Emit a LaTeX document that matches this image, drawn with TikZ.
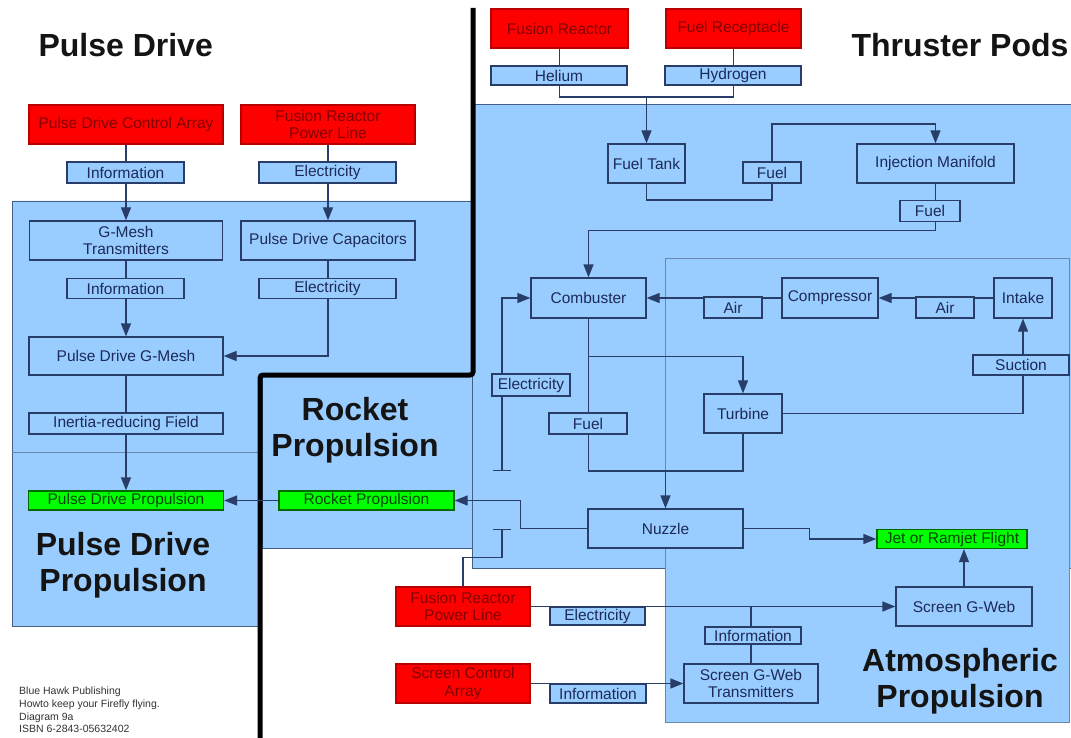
\documentclass[tikz,border=0pt]{standalone}
\usepackage{fontspec}
\setmainfont{Liberation Sans}
\usetikzlibrary{arrows.meta}
\definecolor{zonefill}{RGB}{153,204,255}
\definecolor{zoneedge}{RGB}{70,95,135}
\definecolor{inneredge}{RGB}{105,135,175}
\definecolor{edgeblue}{RGB}{40,62,105}
\definecolor{textblue}{RGB}{28,42,88}
\definecolor{supplyred}{RGB}{255,0,0}
\definecolor{supplyedge}{RGB}{185,0,0}
\definecolor{supplytext}{RGB}{130,0,0}
\definecolor{outgreen}{RGB}{0,255,0}
\definecolor{outedge}{RGB}{0,105,0}
\definecolor{outtext}{RGB}{0,70,0}
\newcommand{\bxfont}{\fontsize{15.5}{17.5}\selectfont}
\newcommand{\ttlfont}{\fontsize{32}{36}\selectfont\bfseries}
\newcommand{\notefont}{\fontsize{10.5}{12.6}\selectfont}
\tikzstyle{zone} = [fill=zonefill,draw=zoneedge,line width=0.8pt]
\tikzstyle{bordered} = [align=center,draw=edgeblue,fill=zonefill,text=textblue,font=\bxfont,inner sep=0,line width=1.2pt,minimum height=39pt]
\tikzstyle{supply} = [bordered,fill=supplyred,draw=supplyedge,text=supplytext]
\tikzstyle{outcome} = [bordered,fill=outgreen,draw=outedge,text=outtext,minimum height=19pt]
\tikzstyle{flowtag} = [bordered,minimum height=20pt]
\tikzstyle{link} = [draw=edgeblue,line width=1.2pt]
\tikzstyle{arrow} = [link,-{Triangle[length=13pt,width=10pt]}]
\tikzstyle{tee} = [link,-{Bar[width=18pt]}]
\tikzstyle{heading} = [align=center,font=\ttlfont,text=black!92]

\begin{document}
\begin{tikzpicture}[x=1pt,y=-1pt]
    \useasboundingbox [fill=white] (0,0) rectangle (1071,738);
    \fill [zone] (12,201) -- (473,201) -- (473,375) -- (260,375) -- (260,626) -- (12,626) -- cycle;
    \draw [draw=inneredge,line width=0.6pt] (12,452) -- (258,452);
    \fill [zone] (262,375) rectangle (472,548);
    \fill [zone] (472,104) rectangle (1073,568);
    \filldraw [zone,draw=inneredge] (665,258) rectangle (1069,722);
    \draw [line width=5pt,rounded corners=3pt] (473,8) -- (473,375) -- (260,375) -- (260,740);

    \node [supply,minimum width=194pt] (pdca) at (126,124.5) {Pulse Drive Control Array};
    \node [supply,minimum width=174pt] (frpl) at (328,124.5) {Fusion Reactor\\Power Line};
    \node [bordered,minimum width=193pt] (gmt) at (126,240.5) {G-Mesh\\Transmitters};
    \node [bordered,minimum width=174pt] (pdc) at (328,240.5) {Pulse Drive Capacitors};
    \node [bordered,minimum width=194pt,minimum height=38pt] (pdgm) at (126,356) {Pulse Drive G-Mesh};
    \node [outcome,minimum width=195pt] (pdp) at (126,500.5) {Pulse Drive Propulsion};
    \node [outcome,minimum width=175pt] (rp) at (366.5,500.5) {Rocket Propulsion};
    \node [supply,minimum width=137pt] (fr) at (559.5,28.5) {Fusion Reactor};
    \node [supply,minimum width=135pt] (frc) at (733.5,28.5) {Fuel Receptacle};
    \node [bordered,minimum width=77pt] (tank) at (646.5,163.5) {Fuel Tank};
    \node [bordered,minimum width=157pt] (inj) at (935.5,163.5) {Injection Manifold};
    \node [bordered,minimum width=115pt,minimum height=40pt] (comb) at (588.5,298) {Combuster};
    \node [bordered,minimum width=96pt,minimum height=40pt] (comp) at (830,298) {Compressor};
    \node [bordered,minimum width=58pt,minimum height=40pt] (intake) at (1023,298) {Intake};
    \node [bordered,minimum width=78pt] (turb) at (743,413.5) {Turbine};
    \node [bordered,minimum width=155pt] (nuz) at (665.5,528.5) {Nuzzle};
    \node [outcome,minimum width=150pt] (jet) at (952,539) {Jet or Ramjet Flight};
    \node [bordered,minimum width=136pt] (sgw) at (964,606.5) {Screen G-Web};
    \node [bordered,minimum width=134pt] (sgwt) at (751,683.5) {Screen G-Web\\Transmitters};
    \node [supply,minimum width=134pt] (frpl2) at (463,606.5) {Fusion Reactor\\Power Line};
    \node [supply,minimum width=134pt] (sca) at (463,683.5) {Screen Control\\Array};
    \coordinate (gas) at (646.5,97);
    \coordinate (exhaust) at (665.5,471);
    \coordinate (stubup) at (502,471);
    \coordinate (stubdown) at (502,529);

    \draw [arrow] (pdca.south) -- (pdca.south |- gmt.north);
    \draw [arrow] (frpl) -- (pdc);
    \draw [arrow] (gmt) -- (pdgm);
    \draw [arrow] (pdc.south) |- (pdgm.east);
    \draw [arrow] (pdgm) -- (pdp);
    \draw [arrow] (rp) -- (pdp);
    \draw [arrow] (nuz.west) -- ++(-67,0) |- (rp.east);
    \draw [link] (fr.south) |- (gas) -| (frc.south);
    \draw [arrow] (gas) -- (tank.north);
    \draw [arrow] (tank.south) |- (772,200) -- (772,124) -| (inj.north);
    \draw [arrow] (inj.south) -- ++(0,47) -| (comb.north);
    \draw [arrow] (intake) -- (comp);
    \draw [arrow] (comp) -- (comb);
    \draw [{Bar[width=18pt]}-{Triangle[length=13pt,width=10pt]},link] (stubup) |- (comb.west);
    \draw [arrow] (comb.south) -- ++(0,38) -| (turb.north);
    \draw [link] (comb.south) |- (exhaust) -| (turb.south);
    \draw [arrow] (exhaust) -- (nuz.north);
    \draw [arrow] (turb.east) -| (intake.south);
    \draw [arrow] (nuz.east) -- ++(66,0) |- (jet.west);
    \draw [arrow] (sgw.north) -- (sgw.north |- jet.south);
    \draw [arrow] (frpl2) -- (sgw);
    \draw [link] (sgwt.north) -- (sgwt.north |- frpl2.east);
    \draw [arrow] (sca) -- (sgwt);
    \draw [tee] (frpl2.north) -- ++(0,-29) -| (stubdown);

    \node [flowtag,minimum width=117pt,minimum height=21pt] (info1) at (125.5,172.5) {Information};
    \node [flowtag,minimum width=137pt,minimum height=21pt] (elec1) at (327.5,172.5) {Electricity};
    \node [flowtag,minimum width=117pt] (info2) at (125.5,288.5) {Information};
    \node [flowtag,minimum width=137pt] (elec2) at (327.5,288.5) {Electricity};
    \node [flowtag,minimum width=194pt,minimum height=21pt] (inertia) at (126,423.5) {Inertia-reducing Field};
    \node [flowtag,minimum width=136pt,minimum height=19pt] (helium) at (559,75.5) {Helium};
    \node [flowtag,minimum width=136pt,minimum height=19pt] (hydro) at (733,75.5) {Hydrogen};
    \node [flowtag,minimum width=58pt,minimum height=21pt] (fuel1) at (772,172.5) {Fuel};
    \node [flowtag,minimum width=60pt,minimum height=21pt] (fuel2) at (930,211) {Fuel};
    \node [flowtag,minimum width=58pt,minimum height=21pt] (air1) at (733,307.5) {Air};
    \node [flowtag,minimum width=58pt,minimum height=21pt] (air2) at (945,307.5) {Air};
    \node [flowtag,minimum width=78pt,minimum height=22pt] (elec3) at (531,385) {Electricity};
    \node [flowtag,minimum width=78pt,minimum height=21pt] (fuel3) at (588,423.5) {Fuel};
    \node [flowtag,minimum width=96pt] (suction) at (1021,365) {Suction};
    \node [flowtag,minimum width=95pt,minimum height=18pt] (elec4) at (597.5,616) {Electricity};
    \node [flowtag,minimum width=96pt,minimum height=19pt] (info3) at (598,693.5) {Information};
    \node [flowtag,minimum width=96pt,minimum height=17pt] (info4) at (753,635.5) {Information};

    \node [heading,anchor=west] (pdtitle) at (35,45) {Pulse Drive};
    \node [heading,anchor=west] (tptitle) at (848,45) {Thruster Pods};
    \node [heading] (rptitle) at (355,430) {Rocket\\Propulsion};
    \node [heading] (pptitle) at (123,565) {Pulse Drive\\Propulsion};
    \node [heading] (aptitle) at (960,681) {Atmospheric\\Propulsion};
    \node [anchor=north west,align=left,font=\notefont,text=black!80,inner sep=0] (credit) at (19,687) {Blue Hawk Publishing\\Howto keep your Firefly flying.\\Diagram 9a\\ISBN 6-2843-05632402};
\end{tikzpicture}
\end{document}
